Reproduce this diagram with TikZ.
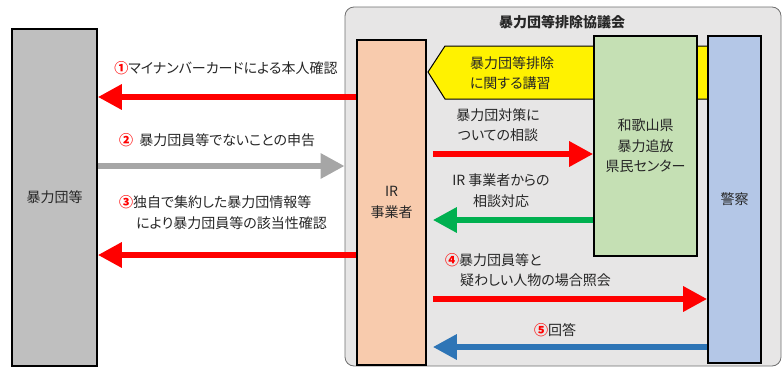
\documentclass[tikz,border=0pt]{standalone}
\usepackage{fontspec}
\setmainfont[RawFeature=+palt]{Noto Sans CJK JP}
\usetikzlibrary{arrows.meta}
\definecolor{txt}{HTML}{262626}
\definecolor{leftgray}{HTML}{BFBFBF}
\definecolor{councilgray}{HTML}{E7E6E6}
\definecolor{bordergray}{HTML}{6F6F6F}
\definecolor{irorange}{HTML}{F8CBAD}
\definecolor{centergreen}{HTML}{C5E0B4}
\definecolor{policeblue}{HTML}{B4C7E7}
\definecolor{arrred}{HTML}{FF0000}
\definecolor{arrgray}{HTML}{A6A6A6}
\definecolor{arrgreen}{HTML}{00B050}
\definecolor{arrblue}{HTML}{2E75B6}
\newcommand\cnum[1]{\textcolor{arrred}{\bfseries #1}}
\tikzset{
  box/.style={draw=black, line width=1.6pt, inner sep=0pt, align=center},
  flow/.style={line width=6.5pt, -{Triangle[length=24pt,width=24pt]}},
  lbl/.style={text=txt, inner sep=0pt, align=center},
}
\begin{document}
\begin{tikzpicture}[x=1pt,y=-1pt, font=\fontsize{14}{20.5}\selectfont]
\useasboundingbox (0,0) rectangle (784,367);
% council container
\node[draw=bordergray, fill=councilgray, line width=0.8pt, rounded corners=9pt,
      minimum width=436pt, minimum height=359pt, inner sep=0pt] (council) at (563,186.5) {};
\node[lbl, font=\fontsize{14}{17}\bfseries] (title) at (562,22) {暴力団等排除協議会};
% yellow arrow (lecture)
\fill[yellow] (428,72) -- (445,46) -- (707,46) -- (707,99) -- (445,99) -- cycle;
\draw[black, line width=1pt] (707,46) -- (445,46) -- (428,72) -- (445,99) -- (707,99);
\node[lbl, align=left] (lecture) at (512,73) {暴力団等排除\\に関する講習};
% boxes
\node[box, fill=leftgray, minimum width=85pt, minimum height=337pt, text=txt] (gang) at (54.5,197.5) {暴力団等};
\node[box, fill=irorange, minimum width=69pt, minimum height=325pt, text=txt] (ir) at (391.5,202.5) {IR\\事業者};
\node[box, fill=centergreen, minimum width=103pt, minimum height=220pt, text=txt] (center) at (645.5,146) {和歌山県\\暴力追放\\県民センター};
\node[box, fill=policeblue, minimum width=53pt, minimum height=327pt, text=txt] (police) at (734.5,199.5) {警察};
% arrows
\draw[flow, arrred] (ir.west |- 0,97) -- (gang.east |- 0,97);
\draw[flow, arrgray] (gang.east |- 0,166) -- (council.west |- 0,166);
\draw[flow, arrred] (ir.west |- 0,255) -- (gang.east |- 0,255);
\draw[flow, arrred] ([xshift=6pt]ir.east |- 0,154) -- (center.west |- 0,154);
\draw[flow, arrgreen] (center.west |- 0,220) -- ([xshift=6pt]ir.east |- 0,220);
\draw[flow, arrred] ([xshift=6pt]ir.east |- 0,299) -- (police.west |- 0,299);
\draw[flow, arrblue] (police.west |- 0,347) -- ([xshift=6pt]ir.east |- 0,347);
% labels
\node[lbl] (l1) at (226,68) {\cnum{①}マイナンバーカードによる本人確認};
\node[lbl] (l2) at (217,140) {\cnum{②}\ \ 暴力団員等でないことの申告};
\node[lbl, align=left] (l3) at (223,212.5) {\cnum{③}独自で集約した暴力団情報等\\\hspace*{17pt}により暴力団員等の該当性確認};
\node[lbl] (l4) at (498,125) {暴力団対策に\\ついての相談};
\node[lbl] (l5) at (501,190.5) {IR 事業者からの\\相談対応};
\node[lbl, align=left] (l6) at (528,270) {\cnum{④}暴力団員等と\\\hspace*{15pt}疑わしい人物の場合照会};
\node[lbl] (l7) at (555,330) {\cnum{⑤}回答};
\end{tikzpicture}
\end{document}
